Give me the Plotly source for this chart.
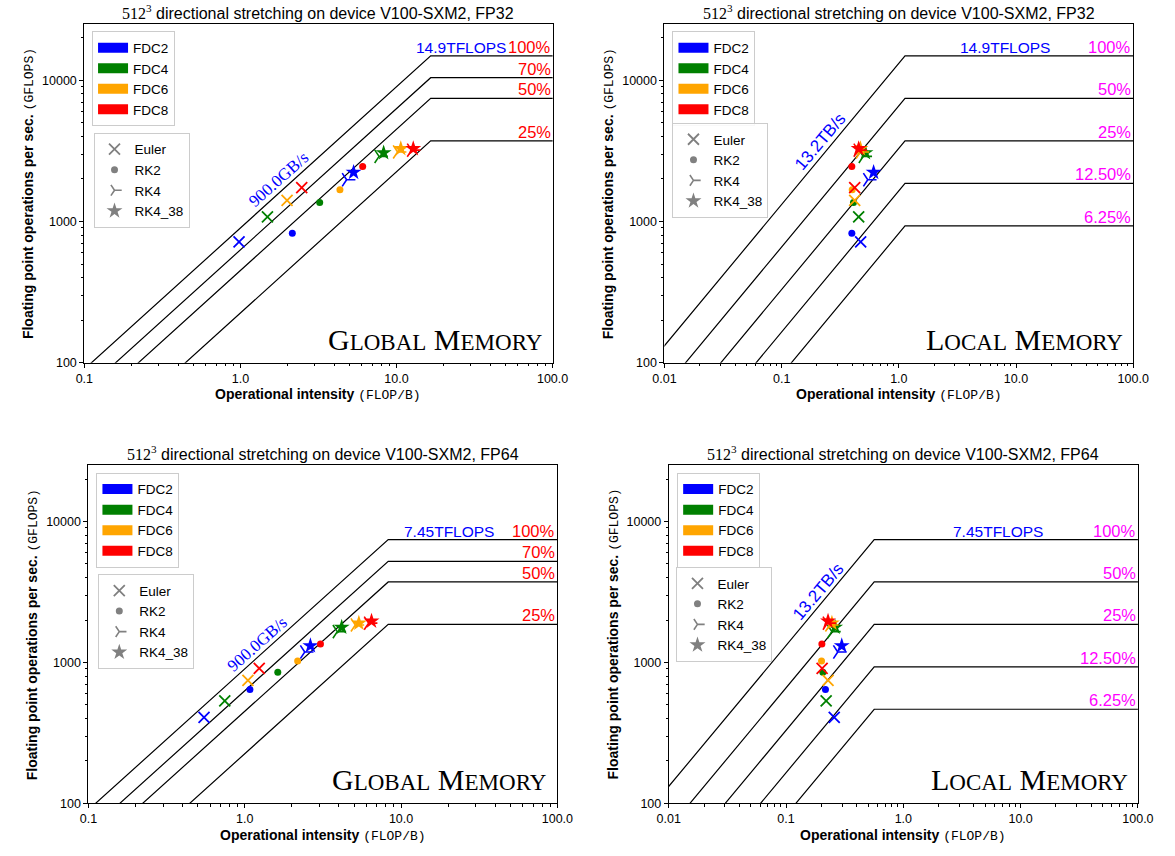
import math
import plotly.graph_objects as go

W, H = 1175, 856

# ---------------- data ----------------
FDC_NAMES = ["FDC2", "FDC4", "FDC6", "FDC8"]
FDC_COLORS = ["#0000ff", "#008000", "#ffa500", "#ff0000"]
METHODS = ["Euler", "RK2", "RK4", "RK4_38"]
METHOD_SYMBOLS = ["x-thin", "circle", "y-right", "star"]

# achieved GFLOPS, rows = method, columns = FDC2..FDC8
FP32_EULER = [717, 1080, 1410, 1736]
FP32_RK2 = [826, 1365, 1676, 2455]
FP32_RK4 = [1975, 2890, 3109, 3200]
FP32_RK438 = [2228, 3066, 3280, 3280]

FP64_EULER = [407, 533, 745, 908]
FP64_RK2 = [643, 852, 1025, 1350]
FP64_RK4 = [1186, 1656, 1846, 1900]
FP64_RK438 = [1314, 1778, 1900, 1964]

# operational intensity (FLOP/B)
GLOB32_EULER = [0.98, 1.49, 1.99, 2.47]
GLOB32_RK2 = [2.15, 3.22, 4.34, 6.07]
GLOB32_RK4 = [4.79, 7.73, 10.16, 12.5]
GLOB32_RK438 = [5.31, 8.27, 10.65, 12.8]

LOC32_EULER = [0.472, 0.454, 0.42, 0.42]
LOC32_RK2 = [0.397, 0.41, 0.40, 0.397]
LOC32_RK4 = [0.543, 0.497, 0.47, 0.45]
LOC32_RK438 = [0.609, 0.519, 0.47, 0.454]

GLOB64_EULER = [0.549, 0.745, 1.048, 1.238]
GLOB64_RK2 = [1.079, 1.627, 2.18, 3.05]
GLOB64_RK4 = [2.42, 3.91, 5.10, 6.2]
GLOB64_RK438 = [2.63, 4.17, 5.37, 6.47]

LOC64_EULER = [0.2575, 0.2197, 0.228, 0.203]
LOC64_RK2 = [0.2167, 0.206, 0.2006, 0.202]
LOC64_RK4 = [0.276, 0.246, 0.236, 0.225]
LOC64_RK438 = [0.2985, 0.262, 0.246, 0.228]

PEAK_FP32 = 14900.0   # GFLOPS
PEAK_FP64 = 7450.0
BW_GLOBAL = 900.0     # GB/s
BW_LOCAL = 13200.0

GLOBAL_PCTS = [1.0, 0.7, 0.5, 0.25]
GLOBAL_PCT_LABELS = ["100%", "70%", "50%", "25%"]
LOCAL_PCTS = [1.0, 0.5, 0.25, 0.125, 0.0625]
LOCAL_PCT_LABELS = ["100%", "50%", "25%", "12.50%", "6.25%"]

X_TICKS_GLOBAL = [0.1, 1, 10, 100]
X_TICKTEXT_GLOBAL = ["0.1", "1.0", "10.0", "100.0"]
X_TICKS_LOCAL = [0.01, 0.1, 1, 10, 100]
X_TICKTEXT_LOCAL = ["0.01", "0.1", "1.0", "10.0", "100.0"]
Y_TICKS = [100, 1000, 10000]
Y_TICKTEXT = ["100", "1000", "10000"]

SANS = "Liberation Sans"
SERIF = "Liberation Serif"
MONO = "Liberation Mono"

panels = [
    dict(ax="", px=(74.1, 553.8), py=(24.3, 365.7), xr=[-1, 2], kind="global",
         peak=PEAK_FP32, bw=BW_GLOBAL, prec="FP32",
         intens=[GLOB32_EULER, GLOB32_RK2, GLOB32_RK4, GLOB32_RK438],
         perf=[FP32_EULER, FP32_RK2, FP32_RK4, FP32_RK438],
         peak_label="14.9TFLOPS", peak_lx=1.713, peak_anchor="right",
         bw_label="900.0GB/s", bw_pos=(0.244, 3.298),
         leg1=(82, 31.7), leg2=(83.5, 134)),
    dict(ax="2", px=(668.4, 1148.6), py=(24.3, 365.7), xr=[-2, 2], kind="local",
         peak=PEAK_FP32, bw=BW_LOCAL, prec="FP32",
         intens=[LOC32_EULER, LOC32_RK2, LOC32_RK4, LOC32_RK438],
         perf=[FP32_EULER, FP32_RK2, FP32_RK4, FP32_RK438],
         peak_label="14.9TFLOPS", peak_lx=0.5015, peak_anchor="left",
         bw_label="13.2TB/s", bw_pos=(-0.6706, 3.5685),
         leg1=(676.6, 31.7), leg2=(676.6, 124)),
    dict(ax="3", px=(78.3, 558.7), py=(469.3, 810.0), xr=[-1, 2], kind="global",
         peak=PEAK_FP64, bw=BW_GLOBAL, prec="FP64",
         intens=[GLOB64_EULER, GLOB64_RK2, GLOB64_RK4, GLOB64_RK438],
         perf=[FP64_EULER, FP64_RK2, FP64_RK4, FP64_RK438],
         peak_label="7.45TFLOPS", peak_lx=1.006, peak_anchor="left",
         bw_label="900.0GB/s", bw_pos=(0.0785, 3.1256),
         leg1=(86.5, 476.7), leg2=(88.4, 579)),
    dict(ax="4", px=(672.8, 1153.4), py=(469.3, 810.0), xr=[-2, 2], kind="local",
         peak=PEAK_FP64, bw=BW_LOCAL, prec="FP64",
         intens=[LOC64_EULER, LOC64_RK2, LOC64_RK4, LOC64_RK438],
         perf=[FP64_EULER, FP64_RK2, FP64_RK4, FP64_RK438],
         peak_label="7.45TFLOPS", peak_lx=0.410, peak_anchor="left",
         bw_label="13.2TB/s", bw_pos=(-0.725, 3.505),
         leg1=(681.4, 476.7), leg2=(680.7, 571.7)),
]

fig = go.Figure()
layout = dict(
    width=W, height=H, margin=dict(l=0, r=0, t=0, b=0),
    paper_bgcolor="white", plot_bgcolor="white",
    font=dict(family=SANS, size=12, color="black"),
    annotations=[],
)

minor_vals = []
for d in range(-3, 5):
    for m in range(2, 10):
        minor_vals.append(m * 10 ** d)

sym_size = {"x-thin": 11, "circle": 7, "y-right": 11, "star": 12}
sym_lw = {"x-thin": 1.8, "circle": 0, "y-right": 1.6, "star": 0}
leg_size = {"x-thin": 11, "circle": 7, "y-right": 9, "star": 12}

for i, p in enumerate(panels):
    xa = "x" + p["ax"]
    ya = "y" + p["ax"]
    xkey = "xaxis" + p["ax"]
    ykey = "yaxis" + p["ax"]
    x0, x1 = p["px"]
    ytop, ybot = p["py"]
    is_local = p["kind"] == "local"
    layout[xkey] = dict(
        type="log", range=p["xr"], domain=[x0 / W, x1 / W], anchor=ya,
        showline=True, linecolor="black", linewidth=1, mirror=True,
        showgrid=False, zeroline=False,
        ticks="outside", ticklen=4, tickcolor="black", tickwidth=1,
        tickvals=X_TICKS_LOCAL if is_local else X_TICKS_GLOBAL,
        ticktext=X_TICKTEXT_LOCAL if is_local else X_TICKTEXT_GLOBAL,
        tickfont=dict(family=SANS, size=12.5),
        minor=dict(tickvals=minor_vals, ticks="outside", ticklen=2.2,
                   tickcolor="black", tickwidth=0.8, showgrid=False),
    )
    layout[ykey] = dict(
        type="log", range=[2, math.log10(25000)],
        domain=[1 - ybot / H, 1 - ytop / H], anchor=xa,
        showline=True, linecolor="black", linewidth=1, mirror=True,
        showgrid=False, zeroline=False,
        ticks="outside", ticklen=4, tickcolor="black", tickwidth=1,
        tickvals=Y_TICKS, ticktext=Y_TICKTEXT,
        tickfont=dict(family=SANS, size=12.5),
        minor=dict(tickvals=minor_vals, ticks="outside", ticklen=2.2,
                   tickcolor="black", tickwidth=0.8, showgrid=False),
    )

    pcts = LOCAL_PCTS if is_local else GLOBAL_PCTS
    plabels = LOCAL_PCT_LABELS if is_local else GLOBAL_PCT_LABELS
    pcolor = "#ff00ff" if is_local else "#ff0000"
    ridge = p["peak"] / p["bw"]
    for frac, lab in zip(pcts, plabels):
        xs = [1e-4, ridge, 1e4]
        ys = [frac * p["bw"] * 1e-4, frac * p["peak"], frac * p["peak"]]
        fig.add_trace(go.Scatter(x=xs, y=ys, mode="lines", xaxis=xa, yaxis=ya,
                                 line=dict(color="black", width=1.2),
                                 showlegend=False, hoverinfo="skip"))
        layout["annotations"].append(dict(
            x=2, y=math.log10(frac * p["peak"]), xref=xa, yref=ya,
            text=lab, showarrow=False, xanchor="right", yanchor="bottom",
            yshift=-2, font=dict(family=SANS, size=16.5, color=pcolor)))

    # peak label
    layout["annotations"].append(dict(
        x=p["peak_lx"], y=math.log10(p["peak"]), xref=xa, yref=ya,
        text=p["peak_label"], showarrow=False, xanchor=p["peak_anchor"],
        yanchor="bottom", yshift=-2, font=dict(family=SANS, size=15.5, color="#0000ff")))
    # bandwidth label
    ang = math.degrees(math.atan(((ybot - ytop) / (math.log10(25000) - 2)) /
                                 ((x1 - x0) / (p["xr"][1] - p["xr"][0]))))
    layout["annotations"].append(dict(
        x=p["bw_pos"][0], y=p["bw_pos"][1], xref=xa, yref=ya,
        text=p["bw_label"], showarrow=False, textangle=-ang,
        xanchor="center", yanchor="middle",
        font=dict(family=SANS if is_local else SERIF, size=17, color="#0000ff")))
    # memory label
    sc = "font-size:23px"
    memtxt = ("L<span style='%s'>OCAL</span> M<span style='%s'>EMORY</span>" % (sc, sc)
              if is_local else
              "G<span style='%s'>LOBAL</span> M<span style='%s'>EMORY</span>" % (sc, sc))
    layout["annotations"].append(dict(
        x=0.983, y=0.015, xref=xa + " domain", yref=ya + " domain",
        text=memtxt, showarrow=False, xanchor="right", yanchor="bottom",
        font=dict(family=SERIF, size=30, color="black")))
    # title
    layout["annotations"].append(dict(
        x=(x0 + x1) / 2 / W, y=1 - (ytop - 12.5) / H, xref="paper", yref="paper",
        text="<span style='font-family:%s'>512<sup>3</sup></span> directional stretching on device V100-SXM2, %s"
             % (SERIF, p["prec"]),
        showarrow=False, xanchor="center", yanchor="middle",
        font=dict(family=SANS, size=16, color="black")))
    # axis titles
    layout["annotations"].append(dict(
        x=(x0 + x1) / 2 / W, y=1 - (ybot + 32) / H, xref="paper", yref="paper",
        text="<b>Operational intensity</b> <span style='font-family:%s;font-size:13px'>(FLOP/B)</span>" % MONO,
        showarrow=False, xanchor="center", yanchor="middle",
        font=dict(family=SANS, size=14, color="black")))
    layout["annotations"].append(dict(
        x=(x0 - 57) / W, y=1 - (ytop + ybot) / 2 / H, xref="paper", yref="paper",
        text="<b>Floating point operations per sec.</b> <span style='font-family:%s;font-size:13px'>(GFLOPS)</span>" % MONO,
        showarrow=False, xanchor="center", yanchor="middle", textangle=-90,
        font=dict(family=SANS, size=14, color="black")))

    # data points: one trace per FDC, one point per method
    for j, (name, col) in enumerate(zip(FDC_NAMES, FDC_COLORS)):
        xs = [p["intens"][k][j] for k in range(4)]
        ys = [p["perf"][k][j] for k in range(4)]
        fig.add_trace(go.Scatter(
            x=xs, y=ys, mode="markers", xaxis=xa, yaxis=ya, showlegend=False,
            marker=dict(symbol=METHOD_SYMBOLS, color=col, opacity=1,
                        size=[sym_size[s] for s in METHOD_SYMBOLS],
                        line=dict(color=col, width=[sym_lw[s] for s in METHOD_SYMBOLS])),
            hoverinfo="skip"))

    # legends
    lg1 = "legend" if i == 0 else "legend%d" % (2 * i + 1)
    lg2 = "legend%d" % (2 * i + 2)
    for name, col in zip(FDC_NAMES, FDC_COLORS):
        fig.add_trace(go.Scatter(x=[None], y=[None], mode="lines", xaxis=xa, yaxis=ya,
                                 name=name, line=dict(color=col, width=10), legend=lg1))
    for meth, s in zip(METHODS, METHOD_SYMBOLS):
        fig.add_trace(go.Scatter(x=[None], y=[None], mode="markers", xaxis=xa, yaxis=ya,
                                 name=meth, legend=lg2,
                                 marker=dict(symbol=s, color="#808080", size=leg_size[s],
                                             opacity=1,
                                             line=dict(color="#808080", width=sym_lw[s]))))
    for lg, pos in ((lg1, p["leg1"]), (lg2, p["leg2"])):
        layout[lg] = dict(x=pos[0] / W, y=1 - pos[1] / H, xanchor="left", yanchor="top",
                          bgcolor="rgba(255,255,255,0.85)", bordercolor="#cccccc",
                          borderwidth=1, font=dict(family=SANS, size=13.5),
                          itemclick=False, itemdoubleclick=False)

fig.update_layout(**layout)
fig.write_html("out.html", config={"displayModeBar": False},
               post_script="document.body.style.margin='0';")
